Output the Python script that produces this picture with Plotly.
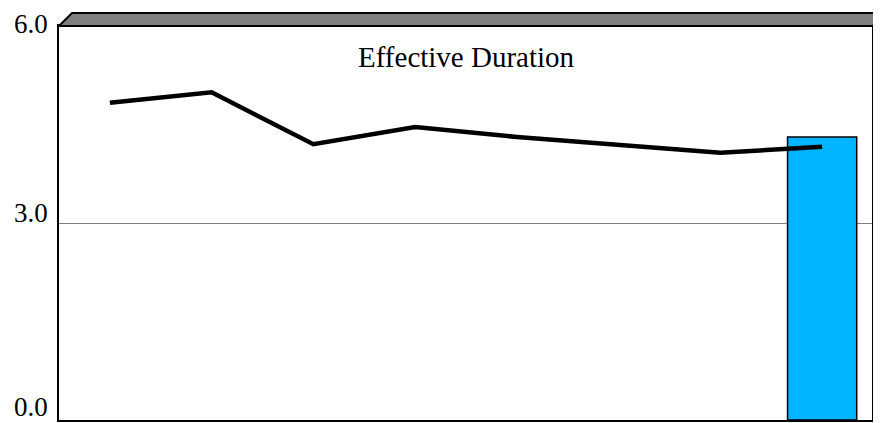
import plotly.graph_objects as go

# ---- data ----
categories = [1, 2, 3, 4, 5, 6, 7, 8]
line_values = [4.83, 4.99, 4.20, 4.46, 4.31, 4.19, 4.07, 4.16]
bar_values = [None, None, None, None, None, None, None, 4.31]
y_tick_vals = [0, 3, 6]
y_tick_text = ["0.0", "3.0", "6.0"]
title_text = "Effective Duration"

# page body has an 8px default margin; compensate so the plot lands where the reference has it
W, H = 873, 415
ml, mr, mt, mb = 51, 8, 18, 3
pw = W - ml - mr
ph = H - mt - mb
dx = 13 / pw
dy = 13 / ph

fig = go.Figure()
fig.add_trace(go.Bar(
    x=categories, y=bar_values, width=0.68,
    marker=dict(color="#00B4FF", line=dict(color="black", width=1.5)),
    showlegend=False, hoverinfo="skip",
))
fig.add_trace(go.Scatter(
    x=categories, y=line_values, mode="lines",
    line=dict(color="black", width=4.5),
    showlegend=False,
))

# 3D box top and right faces (decoration)
fig.add_shape(type="path", xref="paper", yref="paper",
              path=f"M 0 1 L 1 1 L {1+dx} {1+dy} L {dx} {1+dy} Z",
              fillcolor="#808080", line=dict(color="black", width=2), layer="above")
fig.add_shape(type="path", xref="paper", yref="paper",
              path=f"M 1 1 L {1+dx} {1+dy} L {1+dx} {dy} L 1 0 Z",
              fillcolor="#808080", line=dict(color="black", width=2), layer="above")

fig.add_annotation(text=title_text, xref="paper", yref="paper",
                   x=0.5, y=0.921, showarrow=False,
                   xanchor="center", yanchor="middle",
                   font=dict(family="Liberation Serif", size=29, color="black"))

# y tick labels sit just above their gridline (baseline on the line), kept inside the page
ymin, ymax = min(y_tick_vals), max(y_tick_vals)
for v, t in zip(y_tick_vals, y_tick_text):
    if v == ymax:
        anchor, shift = "top", 18
    elif v == ymin:
        anchor, shift = "bottom", -3
    else:
        anchor, shift = "bottom", -6
    fig.add_annotation(text=t, xref="paper", yref="y", x=0, y=v,
                       xanchor="right", yanchor=anchor, xshift=-10, yshift=shift,
                       showarrow=False, borderpad=0,
                       font=dict(family="Liberation Serif", size=27, color="black"))

fig.update_layout(
    width=W, height=H,
    margin=dict(l=ml, r=mr, t=mt, b=mb, autoexpand=False),
    paper_bgcolor="white", plot_bgcolor="white",
    font=dict(family="Liberation Serif", color="black"),
)
fig.update_xaxes(
    range=[0.5, 8.5], showticklabels=False, showgrid=False, zeroline=False,
    showline=True, linecolor="black", linewidth=2, mirror=True, ticks="",
    automargin=False,
)
fig.update_yaxes(
    range=[ymin, ymax], tickvals=y_tick_vals, showticklabels=False,
    showgrid=True, gridcolor="#808080", gridwidth=1, zeroline=False,
    showline=True, linecolor="black", linewidth=2, mirror=True, ticks="",
    automargin=False,
)

fig.write_html("out.html")
